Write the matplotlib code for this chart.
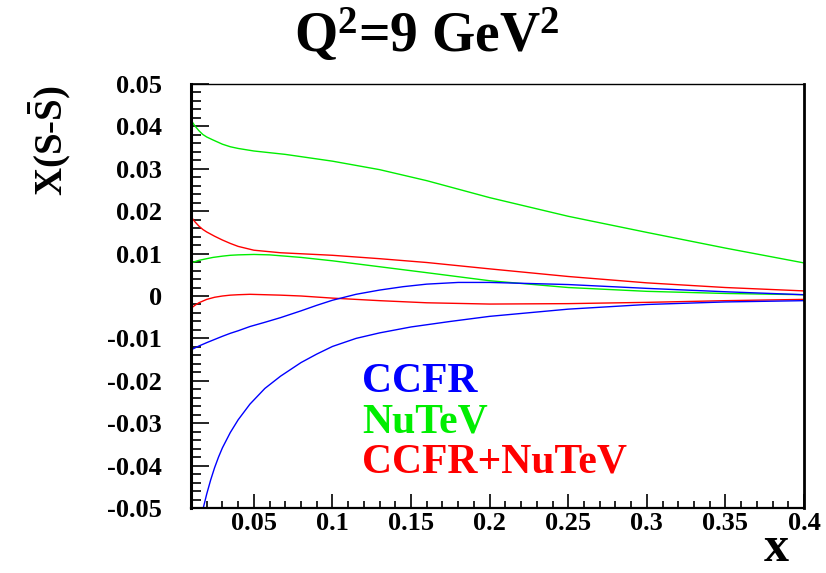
import matplotlib
matplotlib.use("Agg")
import matplotlib.pyplot as plt
from matplotlib.ticker import MultipleLocator

plt.rcParams["font.family"] = "Liberation Serif"
plt.rcParams["font.weight"] = "bold"
plt.rcParams["mathtext.fontset"] = "custom"
plt.rcParams["mathtext.rm"] = "Liberation Serif:bold"
plt.rcParams["mathtext.bf"] = "Liberation Serif:bold"
plt.rcParams["mathtext.it"] = "Liberation Serif:bold"

# --- dane ---
x_nutev_up = [0.01, 0.0125, 0.015, 0.0175, 0.02, 0.024, 0.03, 0.035, 0.04, 0.05, 0.07, 0.1, 0.13, 0.16, 0.2, 0.25, 0.3, 0.35, 0.4]
y_nutev_up = [0.0415, 0.0401, 0.0390, 0.0381, 0.0375, 0.0368, 0.0358, 0.0352, 0.0348, 0.0342, 0.0334, 0.0318, 0.0298, 0.0272, 0.0232, 0.0188, 0.0150, 0.0113, 0.0078]

x_nutev_lo = [0.01, 0.015, 0.02, 0.024, 0.03, 0.035, 0.04, 0.05, 0.06, 0.08, 0.1, 0.13, 0.16, 0.2, 0.25, 0.3, 0.35, 0.4]
y_nutev_lo = [0.0078, 0.0084, 0.0088, 0.0091, 0.0094, 0.0096, 0.0097, 0.0098, 0.0097, 0.0091, 0.0083, 0.0069, 0.0055, 0.0036, 0.0020, 0.0011, 0.0006, 0.0003]

x_comb_up = [0.01, 0.0125, 0.015, 0.0175, 0.02, 0.025, 0.03, 0.035, 0.04, 0.05, 0.067, 0.1, 0.13, 0.16, 0.2, 0.25, 0.3, 0.35, 0.4]
y_comb_up = [0.0187, 0.0175, 0.0165, 0.0157, 0.0151, 0.0141, 0.0132, 0.0124, 0.0117, 0.0108, 0.0102, 0.0096, 0.0088, 0.0079, 0.0064, 0.0046, 0.0031, 0.0020, 0.0012]

x_comb_lo = [0.01, 0.0125, 0.015, 0.0175, 0.02, 0.025, 0.03, 0.035, 0.04, 0.0475, 0.067, 0.08, 0.1, 0.13, 0.16, 0.2, 0.25, 0.3, 0.35, 0.4]
y_comb_lo = [-0.0029, -0.0022, -0.0016, -0.0012, -0.0008, -0.0003, 0.0000, 0.0002, 0.0003, 0.0004, 0.0002, 0.0000, -0.0005, -0.0011, -0.0016, -0.0019, -0.0018, -0.0015, -0.0011, -0.0008]

x_ccfr_up = [0.01, 0.015, 0.02, 0.024, 0.03, 0.035, 0.04, 0.0475, 0.057, 0.067, 0.08, 0.09, 0.1, 0.115, 0.13, 0.145, 0.16, 0.18, 0.2, 0.25, 0.3, 0.35, 0.4]
y_ccfr_up = [-0.0127, -0.0118, -0.0110, -0.0104, -0.0095, -0.0088, -0.0082, -0.0072, -0.0062, -0.0051, -0.0035, -0.0022, -0.0010, 0.0004, 0.0014, 0.0022, 0.0028, 0.0032, 0.0032, 0.0027, 0.0018, 0.0010, 0.0003]

x_ccfr_lo = [0.012, 0.015, 0.0178, 0.02, 0.0225, 0.025, 0.0275, 0.03, 0.035, 0.04, 0.0475, 0.057, 0.067, 0.08, 0.09, 0.1, 0.115, 0.13, 0.15, 0.175, 0.2, 0.25, 0.3, 0.35, 0.4]
y_ccfr_lo = [-0.0595, -0.0545, -0.0500, -0.0467, -0.0434, -0.0405, -0.0380, -0.0358, -0.0322, -0.0292, -0.0255, -0.0218, -0.0189, -0.0157, -0.0137, -0.0119, -0.0100, -0.0087, -0.0073, -0.0060, -0.0048, -0.0031, -0.0020, -0.0014, -0.0011]

y_ticks = [0.05, 0.04, 0.03, 0.02, 0.01, 0.0, -0.01, -0.02, -0.03, -0.04, -0.05]
y_labels = ["0.05", "0.04", "0.03", "0.02", "0.01", "0", "-0.01", "-0.02", "-0.03", "-0.04", "-0.05"]
x_ticks = [0.05, 0.1, 0.15, 0.2, 0.25, 0.3, 0.35, 0.4]
x_labels = ["0.05", "0.1", "0.15", "0.2", "0.25", "0.3", "0.35", "0.4"]

BLUE = "#0000ff"
GREEN = "#00ee00"
RED = "#ff0000"

W, H = 826, 573
fig = plt.figure(figsize=(W / 100, H / 100), dpi=100)
ax = fig.add_axes([191 / W, 1 - 508 / H, (804 - 191) / W, (508 - 84) / H])

ax.plot(x_nutev_up, y_nutev_up, color=GREEN, lw=1.0)
ax.plot(x_nutev_lo, y_nutev_lo, color=GREEN, lw=1.0)
ax.plot(x_comb_up, y_comb_up, color=RED, lw=1.0)
ax.plot(x_comb_lo, y_comb_lo, color=RED, lw=1.0)
ax.plot(x_ccfr_up, y_ccfr_up, color=BLUE, lw=1.0)
ax.plot(x_ccfr_lo, y_ccfr_lo, color=BLUE, lw=1.0)

ax.set_xlim(0.01, 0.4)
ax.set_ylim(-0.05, 0.05)

ax.set_xticks(x_ticks)
ax.set_xticklabels(x_labels, fontsize=19, fontweight="bold")
ax.set_yticks(y_ticks)
ax.set_yticklabels(y_labels, fontsize=19, fontweight="bold")
ax.xaxis.set_minor_locator(MultipleLocator(0.01))
ax.yaxis.set_minor_locator(MultipleLocator(0.002))
ax.tick_params(axis="y", which="major", direction="in", length=13, width=1.2, pad=21)
ax.tick_params(axis="y", which="minor", direction="in", length=7, width=1.2)
ax.tick_params(axis="x", which="major", direction="in", length=10, width=1.2, pad=3)
ax.tick_params(axis="x", which="minor", direction="in", length=5, width=1.2)

ax.spines["left"].set_linewidth(2.2)
ax.spines["bottom"].set_linewidth(1.6)
ax.spines["right"].set_linewidth(2.0)
ax.spines["top"].set_linewidth(1.0)

# "legenda" jako tekst
ax.text(0.279, 0.274, "CCFR", transform=ax.transAxes, color=BLUE, fontsize=30, fontweight="bold", va="baseline")
ax.text(0.279, 0.177, "NuTeV", transform=ax.transAxes, color=GREEN, fontsize=30, fontweight="bold", va="baseline")
ax.text(0.279, 0.083, "CCFR+NuTeV", transform=ax.transAxes, color=RED, fontsize=30, fontweight="bold", va="baseline")

fig.text(427 / W, 1 - 52 / H, r"Q$^{2}$=9 GeV$^{2}$", fontsize=40, fontweight="bold", ha="center", va="baseline")
fig.text(50 / W, 1 - 86 / H, r"$\mathbf{X(S\text{-}\bar{S})}$", fontsize=28, rotation=90, ha="center", va="top")
fig.text(776 / W, 1 - 572 / H, "x", fontsize=36, fontweight="bold", ha="center", va="bottom")

fig.savefig("out.png", dpi=100)
